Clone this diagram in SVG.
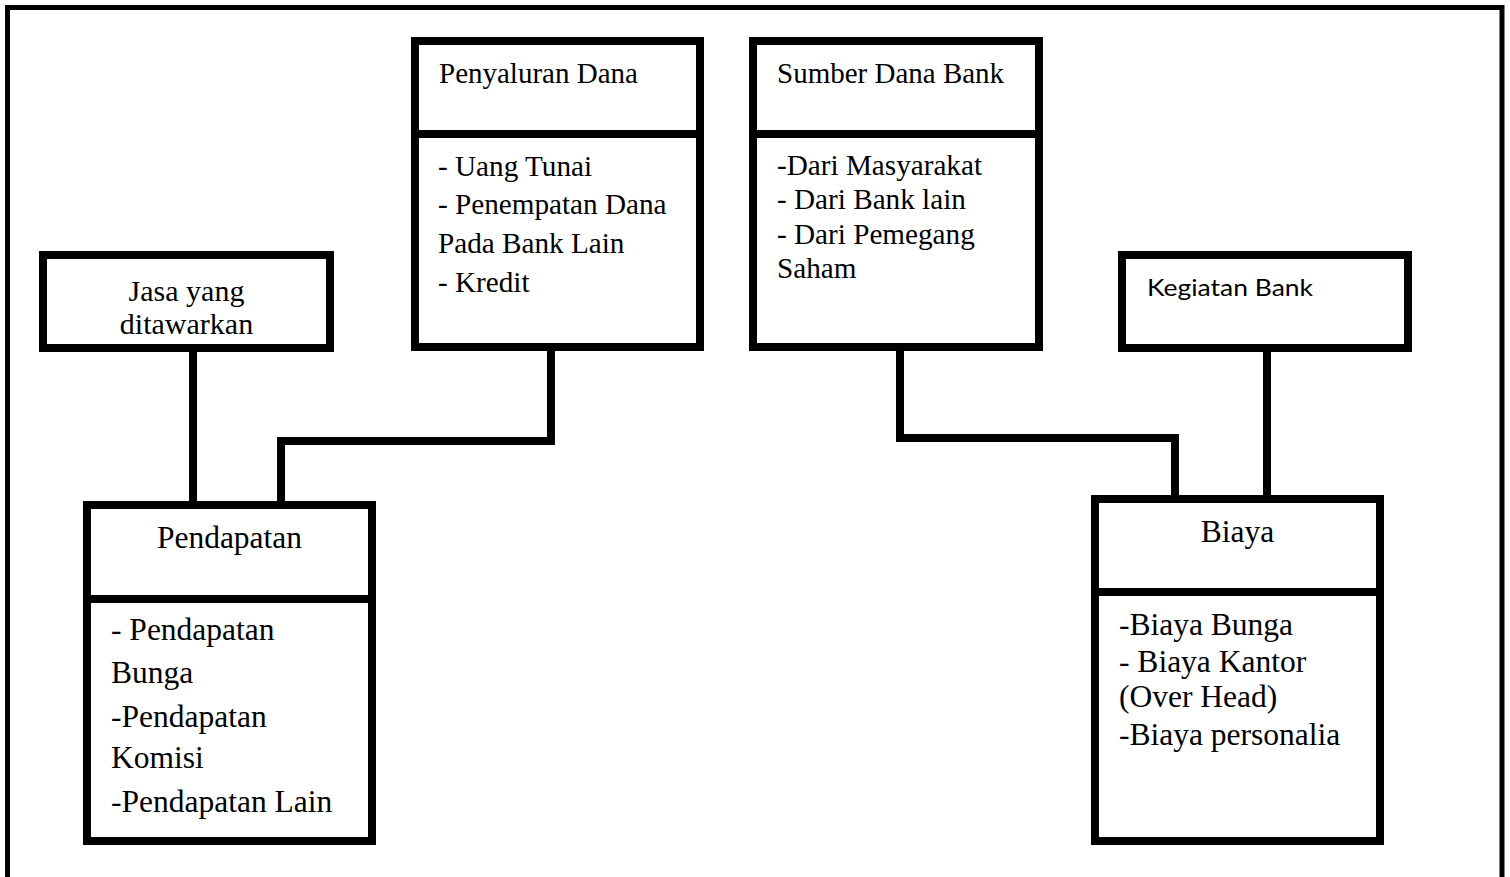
<svg xmlns="http://www.w3.org/2000/svg" width="1510" height="877" viewBox="0 0 1510 877">
<style>
.box{fill:#fff;stroke:#000;stroke-width:8}
.div{stroke:#000;stroke-width:8}
.con{fill:none;stroke:#000;stroke-width:8;stroke-linejoin:miter}
.t{font-family:"Liberation Serif","Times New Roman",serif;fill:#000}
.s{font-family:Lato,"Open Sans","Liberation Sans",sans-serif;fill:#000}
</style>
<rect x="7.5" y="7.5" width="1494.5" height="885" fill="#fff" stroke="#000" stroke-width="5"/>
<g id="connectors">
<path class="con" d="M193 352 V501"/>
<path class="con" d="M551 351 V441 H281 V501"/>
<path class="con" d="M900 351 V438 H1175 V495"/>
<path class="con" d="M1267 352 V495"/>
</g>
<g id="penyaluran">
<rect class="box" x="415" y="41" width="285" height="306"/>
<line class="div" x1="415" y1="134" x2="700" y2="134"/>
<text class="t" x="439" y="83" font-size="29">Penyaluran Dana</text>
<text class="t" font-size="29.2"><tspan x="438" y="176">- Uang  Tunai</tspan><tspan x="438" y="214">- Penempatan Dana</tspan><tspan x="438" y="253">Pada Bank Lain</tspan><tspan x="438" y="292">- Kredit</tspan></text>
</g>
<g id="sumber">
<rect class="box" x="753" y="41" width="286" height="306"/>
<line class="div" x1="753" y1="134" x2="1039" y2="134"/>
<text class="t" x="777" y="83" font-size="29">Sumber Dana Bank</text>
<text class="t" font-size="29.2"><tspan x="777" y="175">-Dari Masyarakat</tspan><tspan x="777" y="209">- Dari Bank lain</tspan><tspan x="777" y="244">- Dari Pemegang</tspan><tspan x="777" y="278">Saham</tspan></text>
</g>
<g id="jasa">
<rect class="box" x="43" y="255" width="287" height="93"/>
<text class="t" font-size="30" text-anchor="middle"><tspan x="186.5" y="301">Jasa yang</tspan><tspan x="186.5" y="334">ditawarkan</tspan></text>
</g>
<g id="kegiatan">
<rect class="box" x="1122" y="255" width="286" height="93"/>
<text class="s" x="1147" y="296" font-size="23" textLength="166" lengthAdjust="spacingAndGlyphs">Kegiatan Bank</text>
</g>
<g id="pendapatan">
<rect class="box" x="87" y="505" width="285" height="336"/>
<line class="div" x1="87" y1="599" x2="372" y2="599"/>
<text class="t" x="229.5" y="548" font-size="31.5" text-anchor="middle">Pendapatan</text>
<text class="t" font-size="31.5"><tspan x="111" y="640">- Pendapatan</tspan><tspan x="111" y="683">Bunga</tspan><tspan x="111" y="727">-Pendapatan</tspan><tspan x="111" y="768">Komisi</tspan><tspan x="111" y="812">-Pendapatan Lain</tspan></text>
</g>
<g id="biaya">
<rect class="box" x="1095" y="499" width="285" height="342"/>
<line class="div" x1="1095" y1="592" x2="1380" y2="592"/>
<text class="t" x="1237.5" y="542" font-size="31.5" text-anchor="middle">Biaya</text>
<text class="t" font-size="31.5"><tspan x="1119" y="635">-Biaya Bunga</tspan><tspan x="1119" y="672">- Biaya Kantor</tspan><tspan x="1119" y="707">(Over Head)</tspan><tspan x="1119" y="745">-Biaya personalia</tspan></text>
</g>
</svg>
